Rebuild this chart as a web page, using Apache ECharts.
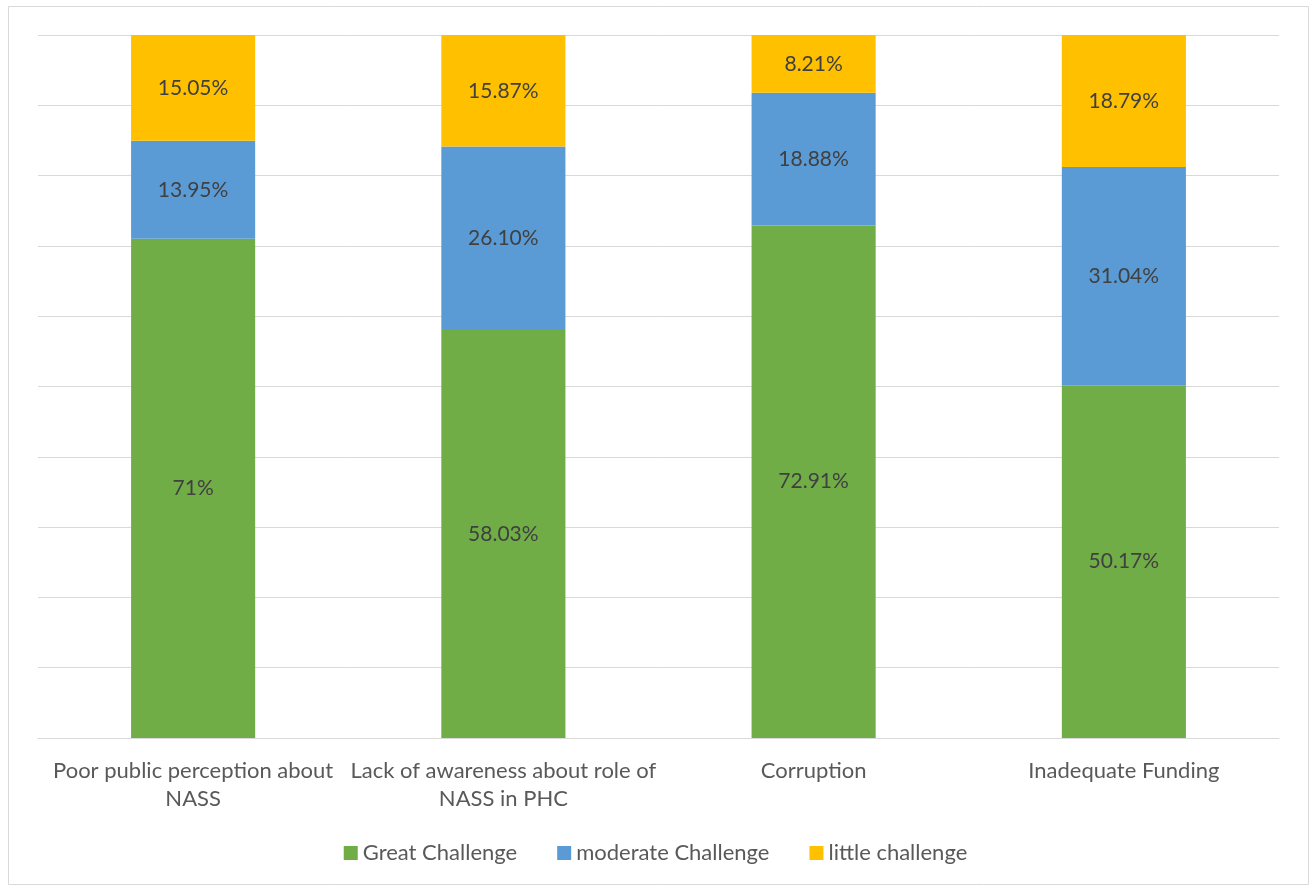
<!DOCTYPE html>
<html>
<head>
<meta charset="utf-8">
<script src="https://cdn.jsdelivr.net/npm/echarts@6/dist/echarts.min.js"></script>
<style>
  html, body { margin: 0; padding: 0; background: #ffffff; }
  #chart { width: 1311px; height: 887px; }
</style>
</head>
<body>
<div id="chart"></div>
<script>
// Categories and percentage shares for each challenge level
const categories = [
  'Poor public perception about\nNASS',
  'Lack of awareness about role of\nNASS in PHC',
  'Corruption',
  'Inadequate Funding'
];
const greatChallenge = [71, 58.03, 72.91, 50.17];
const greatLabels = ['71%', '58.03%', '72.91%', '50.17%'];
const moderateChallenge = [13.95, 26.10, 18.88, 31.04];
const moderateLabels = ['13.95%', '26.10%', '18.88%', '31.04%'];
const littleChallenge = [15.05, 15.87, 8.21, 18.79];
const littleLabels = ['15.05%', '15.87%', '8.21%', '18.79%'];

const FONT = 'Lato';

function labelFor(texts) {
  return {
    show: true,
    position: 'inside',
    color: '#404040',
    fontFamily: FONT,
    fontSize: 21,
    formatter: p => texts[p.dataIndex]
  };
}

const chart = echarts.init(document.getElementById('chart'), null, { renderer: 'canvas' });
chart.setOption({
  animation: false,
  backgroundColor: '#ffffff',
  graphic: [{
    type: 'rect',
    shape: { x: 8.5, y: 6.5, width: 1300, height: 878 },
    style: { fill: 'none', stroke: '#d9d9d9', lineWidth: 1 },
    silent: true
  }],
  grid: { left: 38, right: 32, top: 35, bottom: 149, containLabel: false },
  legend: {
    bottom: 18,
    left: 'center',
    itemWidth: 14,
    itemHeight: 14,
    itemGap: 40,
    icon: 'rect',
    textStyle: { color: '#595959', fontFamily: FONT, fontSize: 22 },
    data: ['Great Challenge', 'moderate Challenge', 'little challenge']
  },
  xAxis: {
    type: 'category',
    data: categories,
    axisLine: { show: true, lineStyle: { color: '#d9d9d9', width: 1 } },
    axisTick: { show: false },
    axisLabel: {
      color: '#595959',
      fontFamily: FONT,
      fontSize: 22,
      lineHeight: 28,
      margin: 19,
      interval: 0
    }
  },
  yAxis: {
    type: 'value',
    min: 0,
    max: 100,
    interval: 10,
    axisLine: { show: false },
    axisTick: { show: false },
    axisLabel: { show: false },
    splitLine: { lineStyle: { color: '#d9d9d9', width: 1 } }
  },
  series: [
    {
      name: 'Great Challenge', type: 'bar', stack: 'total', barWidth: '40%',
      itemStyle: { color: '#70AD47' },
      label: labelFor(greatLabels),
      data: greatChallenge
    },
    {
      name: 'moderate Challenge', type: 'bar', stack: 'total', barWidth: '40%',
      itemStyle: { color: '#5B9BD5' },
      label: labelFor(moderateLabels),
      data: moderateChallenge
    },
    {
      name: 'little challenge', type: 'bar', stack: 'total', barWidth: '40%',
      itemStyle: { color: '#FFC000' },
      label: labelFor(littleLabels),
      data: littleChallenge
    }
  ]
});
</script>
</body>
</html>
